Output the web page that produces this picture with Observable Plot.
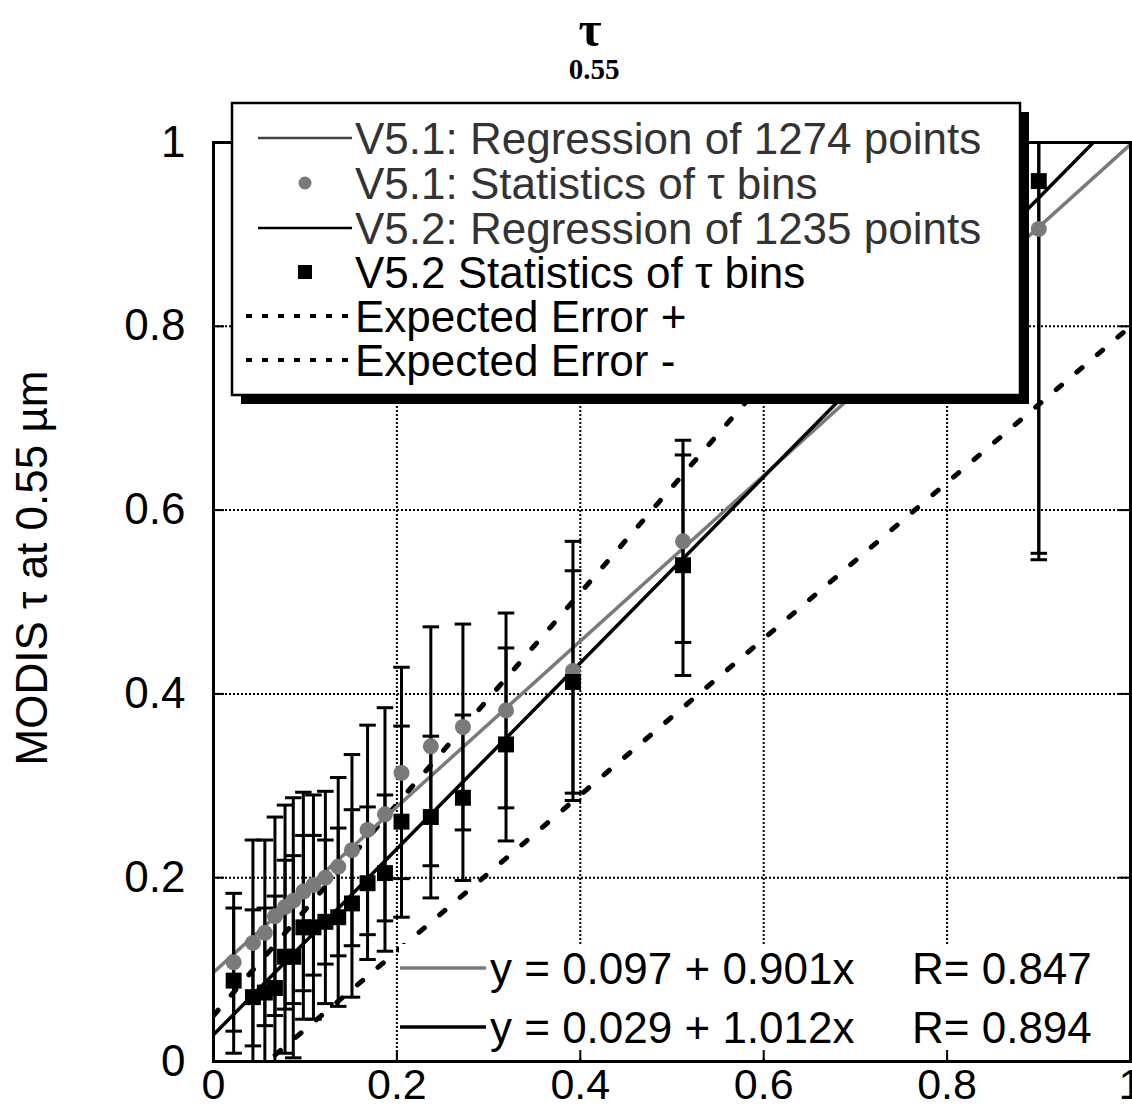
<!DOCTYPE html>
<html>
<head>
<meta charset="utf-8">
<script src="https://cdn.jsdelivr.net/npm/d3@7"></script>
<script src="https://cdn.jsdelivr.net/npm/@observablehq/plot@0.6"></script>
<style>
  html, body { margin: 0; padding: 0; background: white; }
  #chart { width: 1132px; height: 1109px; }
</style>
</head>
<body>
<div id="chart"></div>
<script>
// ---------- data ----------
const binX   = [0.022, 0.043, 0.056, 0.067, 0.078, 0.087, 0.098, 0.109, 0.122, 0.136, 0.151, 0.168, 0.187, 0.205, 0.237, 0.272, 0.319, 0.392, 0.512, 0.900];
const v51Y   = [0.108, 0.129, 0.140, 0.158, 0.168, 0.175, 0.185, 0.192, 0.200, 0.212, 0.230, 0.252, 0.269, 0.314, 0.343, 0.364, 0.382, 0.425, 0.566, 0.906];
const v51Err = [0.075, 0.112, 0.101, 0.108, 0.111, 0.112, 0.108, 0.098, 0.094, 0.097, 0.104, 0.114, 0.116, 0.115, 0.130, 0.112, 0.106, 0.141, 0.110, 0.360];
const v52Y   = [0.088, 0.070, 0.075, 0.080, 0.114, 0.114, 0.146, 0.146, 0.152, 0.157, 0.172, 0.194, 0.205, 0.261, 0.266, 0.287, 0.345, 0.413, 0.540, 0.958];
const v52Err = [0.079, 0.095, 0.092, 0.100, 0.105, 0.110, 0.100, 0.100, 0.089, 0.097, 0.102, 0.083, 0.085, 0.104, 0.088, 0.090, 0.105, 0.121, 0.120, 0.405];

const regVersions   = ["V5.1", "V5.2"];
const regIntercepts = [0.097, 0.029];
const regSlopes     = [0.901, 1.012];
const regR          = [0.847, 0.894];
const regN          = [1274, 1235];

// MODIS expected error over ocean: ±(0.05 + 0.15τ)
const eeOffset = 0.05;
const eeFactor = 0.15;

const xTicks = [0, 0.2, 0.4, 0.6, 0.8, 1];
const yTicks = [0, 0.2, 0.4, 0.6, 0.8, 1];

const legendLabels = [
  "V5.1: Regression of 1274 points",
  "V5.1: Statistics of τ bins",
  "V5.2: Regression of 1235 points",
  "V5.2 Statistics of τ bins",
  "Expected Error +",
  "Expected Error -"
];
const titleMain = "τ";
const titleSub = "0.55";
const yLabel = "MODIS τ at 0.55 µm";

// ---------- derived tables ----------
const bins = binX.map((x, i) => ({x, y51: v51Y[i], e51: v51Err[i], y52: v52Y[i], e52: v52Err[i]}));
const regLines = regVersions.flatMap((v, i) => [0, 1].map(x => ({v, x, y: regIntercepts[i] + regSlopes[i] * x})));
const eeLines = ["+", "-"].flatMap(s => [0, 1].map(x => ({s, x, y: s === "+" ? x + eeOffset + eeFactor * x : x - eeOffset - eeFactor * x})));

const grey = "#7a7a7a";
const cap = 0.009;
const fmt = d => `${d}`;

const plot = Plot.plot({
  width: 1132,
  height: 1109,
  marginLeft: 213,
  marginRight: 2,
  marginTop: 142,
  marginBottom: 48,
  x: {domain: [0, 1]},
  y: {domain: [0, 1]},
  style: {fontFamily: "Liberation Sans, Arial, sans-serif", fontSize: "44px", color: "black", background: "white", overflow: "visible"},
  marks: [
    Plot.gridX({ticks: xTicks, stroke: "black", strokeOpacity: 1, strokeWidth: 2, strokeDasharray: "2,2"}),
    Plot.gridY({ticks: yTicks, stroke: "black", strokeOpacity: 1, strokeWidth: 2, strokeDasharray: "2,2"}),
    Plot.axisX({ticks: xTicks, tickFormat: fmt, tickSize: 0, tickPadding: 7, label: null, fontSize: 43}),
    Plot.axisY({ticks: yTicks, tickFormat: fmt, tickSize: 0, tickPadding: 28, label: null, fontSize: 44}),
    // expected error
    Plot.line(eeLines, {x: "x", y: "y", z: "s", stroke: "black", strokeWidth: 5, strokeDasharray: "7,20", clip: true}),
    // regressions
    Plot.line(regLines, {x: "x", y: "y", z: "v", stroke: d => d.v === "V5.1" ? grey : "black", strokeWidth: 3.5, clip: true}),
    // error bars V5.1
    Plot.ruleX(bins, {x: "x", y1: d => d.y51 - d.e51, y2: d => d.y51 + d.e51, stroke: "black", strokeWidth: 3, clip: true}),
    Plot.link(bins, {x1: d => d.x - cap, x2: d => d.x + cap, y1: d => d.y51 + d.e51, y2: d => d.y51 + d.e51, stroke: "black", strokeWidth: 3, clip: true}),
    Plot.link(bins, {x1: d => d.x - cap, x2: d => d.x + cap, y1: d => d.y51 - d.e51, y2: d => d.y51 - d.e51, stroke: "black", strokeWidth: 3, clip: true}),
    // error bars V5.2
    Plot.ruleX(bins, {x: "x", y1: d => d.y52 - d.e52, y2: d => d.y52 + d.e52, stroke: "black", strokeWidth: 3, clip: true}),
    Plot.link(bins, {x1: d => d.x - cap, x2: d => d.x + cap, y1: d => d.y52 + d.e52, y2: d => d.y52 + d.e52, stroke: "black", strokeWidth: 3, clip: true}),
    Plot.link(bins, {x1: d => d.x - cap, x2: d => d.x + cap, y1: d => d.y52 - d.e52, y2: d => d.y52 - d.e52, stroke: "black", strokeWidth: 3, clip: true}),
    // points
    Plot.dot(bins, {x: "x", y: "y51", r: 8, fill: grey, stroke: "none"}),
    Plot.dot(bins, {x: "x", y: "y52", r: 9, symbol: "square", fill: "black", stroke: "none"}),
    // inward ticks
    Plot.ruleX(xTicks, {x: d => d, y1: 0, y2: 0.012, stroke: "black", strokeWidth: 2, className: "innerticks"}),
    Plot.ruleY(yTicks, {y: d => d, x1: 0, x2: 0.012, stroke: "black", strokeWidth: 2}),
    Plot.ruleY(yTicks, {y: d => d, x1: 0.988, x2: 1, stroke: "black", strokeWidth: 2}),
    Plot.frame({stroke: "black", strokeWidth: 3})
  ]
});

document.getElementById("chart").appendChild(plot);
const svg = d3.select(plot);
const sans = "Liberation Sans, Arial, sans-serif";

// ---------- equation box (bottom right) ----------
const eq = svg.insert("g", ".innerticks");
eq.append("rect").attr("x", 399).attr("y", 944).attr("width", 728).attr("height", 114).attr("fill", "white");
const eqRows = [968, 1027];
regVersions.forEach((v, i) => {
  eq.append("line").attr("x1", 400).attr("x2", 486).attr("y1", eqRows[i]).attr("y2", eqRows[i])
    .attr("stroke", i === 0 ? grey : "black").attr("stroke-width", 3.5);
  eq.append("text").attr("x", 490).attr("y", eqRows[i]).attr("dy", "0.36em")
    .attr("text-anchor", "start").attr("font-family", sans)
    .attr("font-size", 44).attr("fill", "black")
    .text(`y = ${regIntercepts[i].toFixed(3)} + ${regSlopes[i].toFixed(3)}x`);
  eq.append("text").attr("x", 912).attr("y", eqRows[i]).attr("dy", "0.36em")
    .attr("text-anchor", "start").attr("font-family", sans)
    .attr("font-size", 44).attr("fill", "black")
    .text(`R= ${regR[i].toFixed(3)}`);
});

// ---------- legend (top) ----------
const lg = svg.append("g");
lg.append("rect").attr("x", 241).attr("y", 112).attr("width", 788).attr("height", 292).attr("fill", "black");
lg.append("rect").attr("x", 232).attr("y", 103).attr("width", 788).attr("height", 292)
  .attr("fill", "white").attr("stroke", "black").attr("stroke-width", 2.5);
const rowY = [138, 183, 228, 272, 316, 360];
legendLabels.forEach((label, i) => {
  const y = rowY[i];
  if (i === 0 || i === 2) {
    lg.append("line").attr("x1", 258).attr("x2", 352).attr("y1", y).attr("y2", y)
      .attr("stroke", i === 0 ? "#444" : "black").attr("stroke-width", 2.5);
  } else if (i === 1) {
    lg.append("circle").attr("cx", 305).attr("cy", y).attr("r", 6.5).attr("fill", grey);
  } else if (i === 3) {
    lg.append("rect").attr("x", 298).attr("y", y - 7).attr("width", 14).attr("height", 14).attr("fill", "black");
  } else {
    lg.append("line").attr("x1", 246).attr("x2", 352).attr("y1", y).attr("y2", y)
      .attr("stroke", "black").attr("stroke-width", 4).attr("stroke-dasharray", "6,10");
  }
  lg.append("text").attr("x", 355).attr("y", y).attr("dy", "0.36em")
    .attr("text-anchor", "start").attr("font-family", sans)
    .attr("font-size", 44).attr("fill", i < 3 ? "#333" : "black")
    .text(label);
});

// ---------- title ----------
svg.append("text").attr("x", 590).attr("y", 46).attr("text-anchor", "middle")
  .attr("font-family", "Liberation Serif, Times New Roman, serif").attr("font-weight", "bold")
  .attr("font-size", 50).attr("fill", "black").text(titleMain);
svg.append("text").attr("x", 594).attr("y", 79).attr("text-anchor", "middle")
  .attr("font-family", "Liberation Serif, Times New Roman, serif").attr("font-weight", "bold")
  .attr("font-size", 29).attr("fill", "black").text(titleSub);

// ---------- y label ----------
svg.append("text").attr("transform", "translate(47,568) rotate(-90)").attr("text-anchor", "middle")
  .attr("font-family", sans)
  .attr("font-size", 44).attr("fill", "black").text(yLabel);
</script>
</body>
</html>
